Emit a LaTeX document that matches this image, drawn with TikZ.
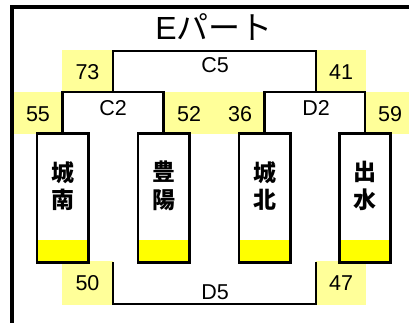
\documentclass[tikz,border=0pt]{standalone}
\usepackage{fontspec}
\setmainfont{Liberation Sans}
\newfontfamily\jp{Noto Sans CJK JP}
\definecolor{paleyellow}{HTML}{FFFF99}
\definecolor{brightyellow}{HTML}{FFFF00}
\begin{document}
\begin{tikzpicture}[x=1pt,y=-1pt,
  numtext/.style={inner sep=0pt,font=\fontsize{21.5}{21.5}\selectfont},
  teambox/.style={draw=none,inner sep=0pt,minimum width=51pt,minimum height=128pt},
  teamname/.style={inner sep=0pt,align=center,font=\jp\bfseries\fontsize{23}{27.5}\selectfont},
  bracket/.style={line width=2.2pt},
  match/.style={inner sep=0pt,font=\fontsize{21.5}{21.5}\selectfont}]
\useasboundingbox (0,0) rectangle (409,323);
% frame
\draw[line width=4pt] (12,330) -- (12,7.5) -- (415,7.5);
% title
\node[inner sep=0pt,anchor=base] (title) at (214,40) {\fontsize{32}{32}\selectfont E{\jp パート}};
% pale yellow score fields
\fill[paleyellow] (62,50) rectangle (113,92);
\fill[paleyellow] (316,50) rectangle (366,92);
\fill[paleyellow] (14,92) rectangle (62,134);
\fill[paleyellow] (164,92) rectangle (265,134);
\fill[paleyellow] (366,92) rectangle (409,134);
\fill[paleyellow] (62,261) rectangle (113,305);
\fill[paleyellow] (316,261) rectangle (366,305);
% team boxes
\foreach \n/\cx/\name in {t1/62.5/城\\南, t2/163.5/豊\\陽, t3/264.5/城\\北, t4/365/出\\水}{
  \fill[brightyellow] (\cx-25.5,240) rectangle (\cx+25.5,262);
  \node[teambox] (\n) at (\cx,198) {};
  \draw[line width=2.6pt] (\n.north west) rectangle (\n.south east);
  \node[teamname] at (\cx,186) {\name};
}
% bracket coordinates
\coordinate (c2l) at (t1.north);
\coordinate (c2r) at (t2.north);
\coordinate (d2l) at (t3.north);
\coordinate (d2r) at (t4.north);
\coordinate (c2top) at (113,92);
\coordinate (d2top) at (316,92);
\coordinate (d5l) at (113,262);
\coordinate (d5r) at (316,262);
\draw[bracket] (c2l) -- ++(0,-42) -| (c2r);
\draw[bracket] (d2l) -- ++(0,-42) -| (d2r);
\draw[bracket] (c2top) -- ++(0,-41) -| (d2top);
\draw[bracket] (d5l) -- ++(0,42) -| (d5r);
% match labels
\node[match] (C5) at (215,65) {C5};
\node[match] (C2) at (113,108) {C2};
\node[match] (D2) at (316,108) {D2};
\node[match] (D5) at (215,292) {D5};
% scores
\node[numtext] (s73) at (87.5,72) {73};
\node[numtext] (s41) at (341,72) {41};
\node[numtext] (s55) at (38,114) {55};
\node[numtext] (s52) at (189,114) {52};
\node[numtext] (s36) at (240,114) {36};
\node[numtext] (s59) at (390,114) {59};
\node[numtext] (s50) at (87.5,283) {50};
\node[numtext] (s47) at (341,283) {47};
\end{tikzpicture}
\end{document}
